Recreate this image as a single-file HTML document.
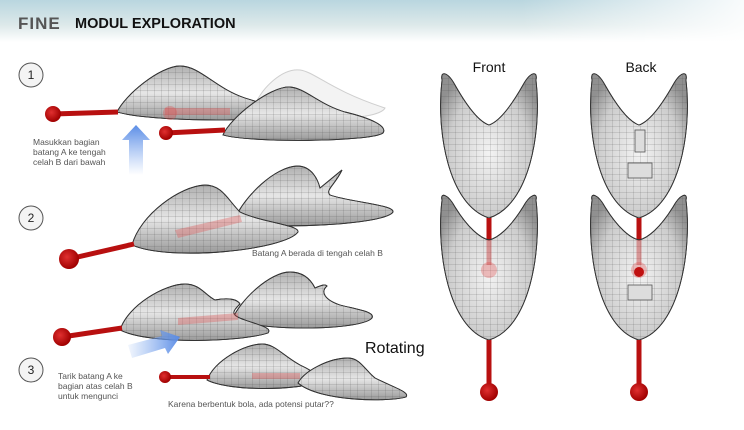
<!DOCTYPE html>
<html><head><meta charset="utf-8"><style>
html,body{margin:0;padding:0;background:#fff;width:744px;height:430px;overflow:hidden}
svg{display:block}
text{font-family:"Liberation Sans",sans-serif}
</style></head><body>
<svg width="744" height="430" viewBox="0 0 744 430" xmlns="http://www.w3.org/2000/svg">
<defs>
<linearGradient id="hdr" x1="0" y1="0" x2="0" y2="1">
<stop offset="0" stop-color="#b9d6df"/><stop offset="0.6" stop-color="#dde9ea"/><stop offset="1" stop-color="#fff"/>
</linearGradient>
<linearGradient id="hdrx" x1="0" y1="0" x2="1" y2="0">
<stop offset="0" stop-color="#fff" stop-opacity="0"/><stop offset="0.7" stop-color="#fff" stop-opacity="0"/><stop offset="1" stop-color="#fff" stop-opacity="0.9"/>
</linearGradient>
<linearGradient id="g" x1="0" y1="0" x2="0" y2="1">
<stop offset="0" stop-color="#b0b0b0"/><stop offset="0.5" stop-color="#e6e6e6"/><stop offset="1" stop-color="#9a9a9a"/>
</linearGradient>
<radialGradient id="gv" cx="0.5" cy="0.55" r="0.6">
<stop offset="0" stop-color="#f3f3f3"/><stop offset="0.7" stop-color="#cdcdcd"/><stop offset="1" stop-color="#909090"/>
</radialGradient>
<pattern id="grid" width="7" height="6" patternUnits="userSpaceOnUse">
<path d="M0 0H7M0 0V6" stroke="#444" stroke-width="0.5" fill="none" opacity="0.6"/>
</pattern>
<linearGradient id="blue" x1="0" y1="1" x2="0" y2="0">
<stop offset="0" stop-color="#7aa6ee" stop-opacity="0"/><stop offset="1" stop-color="#5b8de6"/>
</linearGradient>
<linearGradient id="blue2" x1="0" y1="0" x2="1" y2="0">
<stop offset="0" stop-color="#7aa6ee" stop-opacity="0.1"/><stop offset="1" stop-color="#5b8de6"/>
</linearGradient>
<radialGradient id="ball" cx="0.4" cy="0.4" r="0.6">
<stop offset="0" stop-color="#e03030"/><stop offset="1" stop-color="#a00000"/>
</radialGradient>
</defs>

<rect x="0" y="0" width="744" height="42" fill="url(#hdr)"/>
<rect x="0" y="0" width="744" height="42" fill="url(#hdrx)"/>
<text x="18" y="29" font-size="17" font-weight="bold" fill="#555" letter-spacing="1">FINE</text>
<text x="75" y="28" font-size="14.5" font-weight="bold" fill="#111">MODUL EXPLORATION</text>

<g fill="#f4f4f4" stroke="#555" stroke-width="1">
<circle cx="31" cy="75" r="12"/><circle cx="31" cy="218" r="12"/><circle cx="31" cy="370" r="12"/>
</g>
<g font-size="12" fill="#222" text-anchor="middle">
<text x="31" y="79">1</text><text x="31" y="222">2</text><text x="31" y="374">3</text>
</g>

<!-- Row 1 -->
<path d="M255,105 C262,88 282,68 300,70 C315,72 330,90 385,108 C380,118 330,122 270,118 Z" fill="#eee" stroke="#bbb" opacity="0.7"/>
<g stroke="#333" stroke-width="0.9">
<path d="M117,112 C125,95 160,66 180,66 C200,66 215,88 245,98 C265,104 280,110 278,115 C270,122 150,122 117,112 Z" fill="url(#g)"/>
<path d="M117,112 C125,95 160,66 180,66 C200,66 215,88 245,98 C265,104 280,110 278,115 C270,122 150,122 117,112 Z" fill="url(#grid)"/>
<path d="M223,135 C230,118 270,86 290,87 C305,88 320,105 345,112 C370,118 388,126 383,133 C370,142 250,143 223,135 Z" fill="url(#g)"/>
<path d="M223,135 C230,118 270,86 290,87 C305,88 320,105 345,112 C370,118 388,126 383,133 C370,142 250,143 223,135 Z" fill="url(#grid)"/>
</g>
<rect x="165" y="108" width="65" height="7" fill="#e05050" opacity="0.35"/>
<circle cx="170" cy="113" r="7" fill="#e05050" opacity="0.35"/>
<line x1="53" y1="114" x2="118" y2="112" stroke="#b81010" stroke-width="5"/>
<circle cx="53" cy="114" r="8" fill="url(#ball)"/>
<line x1="166" y1="133" x2="225" y2="130" stroke="#b81010" stroke-width="5"/>
<circle cx="166" cy="133" r="7" fill="url(#ball)"/>
<path d="M129,175 V140 H122 L136,125 L150,140 H143 V175 Z" fill="url(#blue)"/>
<g font-size="8.5" fill="#555">
<text x="33" y="145">Masukkan bagian</text>
<text x="33" y="155">batang A ke tengah</text>
<text x="33" y="165">celah B dari bawah</text>
</g>

<!-- Row 2 -->
<g stroke="#333" stroke-width="0.9">
<path d="M233,222 C245,195 275,167 297,166 C312,166 318,180 320,188 C330,180 338,173 342,170 C335,185 325,190 330,195 C350,202 395,205 393,212 C385,225 270,230 233,222 Z" fill="url(#g)"/>
<path d="M233,222 C245,195 275,167 297,166 C312,166 318,180 320,188 C330,180 338,173 342,170 C335,185 325,190 330,195 C350,202 395,205 393,212 C385,225 270,230 233,222 Z" fill="url(#grid)"/>
<path d="M132,245 C140,215 180,186 205,185 C222,185 228,200 240,212 C260,222 300,225 298,232 C285,250 170,262 132,245 Z" fill="url(#g)"/>
<path d="M132,245 C140,215 180,186 205,185 C222,185 228,200 240,212 C260,222 300,225 298,232 C285,250 170,262 132,245 Z" fill="url(#grid)"/>
</g>
<path d="M175,230 L240,215 L242,222 L178,238 Z" fill="#e05050" opacity="0.35"/>
<line x1="69" y1="259" x2="134" y2="244" stroke="#b81010" stroke-width="5"/>
<circle cx="69" cy="259" r="10" fill="url(#ball)"/>
<text x="252" y="256" font-size="8.5" fill="#555">Batang A berada di tengah celah B</text>

<!-- Row 3 -->
<g stroke="#333" stroke-width="0.9">
<path d="M232,320 C240,300 270,272 290,272 C305,272 312,282 315,288 C322,285 325,284 327,286 C320,292 325,300 340,305 C360,310 375,312 372,318 C362,330 270,332 232,320 Z" fill="url(#g)"/>
<path d="M232,320 C240,300 270,272 290,272 C305,272 312,282 315,288 C322,285 325,284 327,286 C320,292 325,300 340,305 C360,310 375,312 372,318 C362,330 270,332 232,320 Z" fill="url(#grid)"/>
<path d="M120,330 C128,305 165,284 185,284 C200,284 205,295 215,300 C230,297 238,300 240,304 C232,312 230,315 245,320 C262,326 272,328 268,333 C240,342 150,345 120,330 Z" fill="url(#g)"/>
<path d="M120,330 C128,305 165,284 185,284 C200,284 205,295 215,300 C230,297 238,300 240,304 C232,312 230,315 245,320 C262,326 272,328 268,333 C240,342 150,345 120,330 Z" fill="url(#grid)"/>
</g>
<path d="M178,318 L238,313 L238,320 L178,325 Z" fill="#e05050" opacity="0.35"/>
<line x1="62" y1="337" x2="122" y2="328" stroke="#b81010" stroke-width="5"/>
<circle cx="62" cy="337" r="9" fill="url(#ball)"/>
<path d="M132,358 L128,345 L162,336 L160,330 L180,337 L168,354 L165,348 Z" fill="url(#blue2)"/>
<g font-size="8.5" fill="#555">
<text x="58" y="379">Tarik batang A ke</text>
<text x="58" y="389">bagian atas celah B</text>
<text x="58" y="399">untuk mengunci</text>
</g>
<text x="365" y="353" font-size="16" fill="#111">Rotating</text>

<!-- Row 4 -->
<g stroke="#333" stroke-width="0.9">
<path d="M207,380 C215,360 245,344 262,344 C275,344 282,355 300,365 C315,372 322,378 318,382 C300,390 230,392 207,380 Z" fill="url(#g)"/>
<path d="M207,380 C215,360 245,344 262,344 C275,344 282,355 300,365 C315,372 322,378 318,382 C300,390 230,392 207,380 Z" fill="url(#grid)"/>
<path d="M298,383 C305,370 330,358 348,358 C360,358 365,370 375,378 C395,388 410,392 406,397 C390,402 320,402 298,383 Z" fill="url(#g)"/>
<path d="M298,383 C305,370 330,358 348,358 C360,358 365,370 375,378 C395,388 410,392 406,397 C390,402 320,402 298,383 Z" fill="url(#grid)"/>
</g>
<rect x="252" y="373" width="48" height="6" fill="#e05050" opacity="0.35"/>
<line x1="165" y1="377" x2="210" y2="377" stroke="#b81010" stroke-width="4"/>
<circle cx="165" cy="377" r="6" fill="url(#ball)"/>
<text x="168" y="407" font-size="8.5" fill="#555">Karena berbentuk bola, ada potensi putar??</text>

<!-- Front / Back -->
<text x="489" y="72" font-size="14" fill="#111" text-anchor="middle">Front</text>
<text x="641" y="72" font-size="14" fill="#111" text-anchor="middle">Back</text>

<g id="fv">
<line x1="489" y1="215" x2="489" y2="392" stroke="#b81010" stroke-width="5"/>
<g stroke="#333" stroke-width="0.9">
<path d="M442,80 C440,70 448,72 455,85 C468,108 480,122 489,125 C498,122 510,108 523,85 C530,72 538,70 536,80 C542,130 530,205 489,218 C448,205 436,130 442,80 Z" fill="url(#gv)"/>
<path d="M442,80 C440,70 448,72 455,85 C468,108 480,122 489,125 C498,122 510,108 523,85 C530,72 538,70 536,80 C542,130 530,205 489,218 C448,205 436,130 442,80 Z" fill="url(#grid)"/>
</g>
<line x1="489" y1="218" x2="489" y2="240" stroke="#b81010" stroke-width="5"/>
<g stroke="#333" stroke-width="0.9">
<path d="M442,200 C440,192 448,194 455,207 C468,228 480,238 489,240 C498,238 510,228 523,207 C530,194 538,192 536,200 C542,250 530,328 489,340 C448,328 436,250 442,200 Z" fill="url(#gv)"/>
<path d="M442,200 C440,192 448,194 455,207 C468,228 480,238 489,240 C498,238 510,228 523,207 C530,194 538,192 536,200 C542,250 530,328 489,340 C448,328 436,250 442,200 Z" fill="url(#grid)"/>
</g>
<line x1="489" y1="240" x2="489" y2="265" stroke="#c02020" stroke-width="5" opacity="0.4"/>
<circle cx="489" cy="270" r="8" fill="#e05050" opacity="0.35"/>
<line x1="489" y1="340" x2="489" y2="390" stroke="#b81010" stroke-width="5"/>
<circle cx="489" cy="392" r="9" fill="url(#ball)"/>
</g>
<use href="#fv" x="150"/>
<g fill="#ddd" stroke="#555" stroke-width="0.8">
<rect x="628" y="163" width="24" height="15"/><rect x="628" y="285" width="24" height="15"/>
<rect x="635" y="130" width="10" height="22"/>
</g>
<circle cx="639" cy="272" r="5" fill="#c01010"/>
</svg>
</body></html>
